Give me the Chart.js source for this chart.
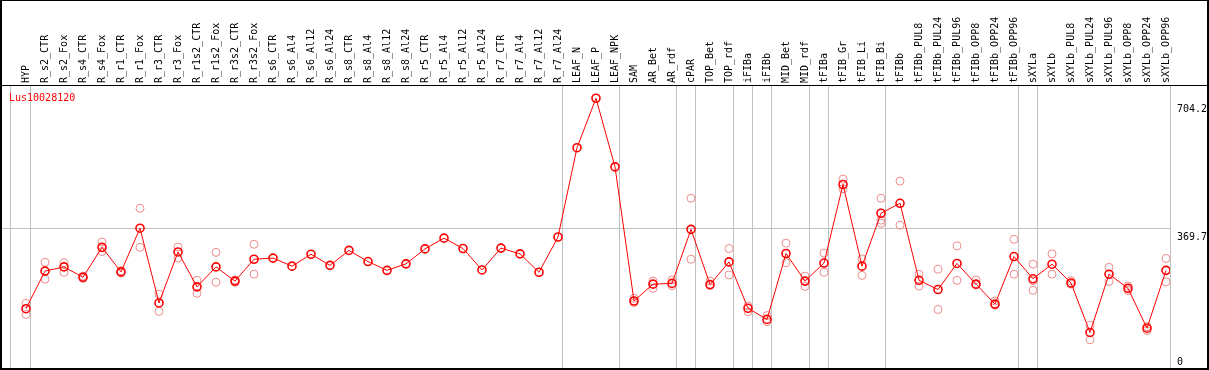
<!DOCTYPE html>
<html><head><meta charset="utf-8">
<script src="https://cdn.jsdelivr.net/npm/chart.js@4.4.0/dist/chart.umd.min.js"></script>
<style>html,body{margin:0;padding:0;background:#fff;}canvas{display:block;}</style>
</head><body>
<canvas id="c" width="1209" height="370"></canvas>
<script>
const geneName = 'Lus10028120';
const categories = ['HYP','R_s2_CTR','R_s2_Fox','R_s4_CTR','R_s4_Fox','R_r1_CTR','R_r1_Fox','R_r3_CTR','R_r3_Fox','R_r1s2_CTR','R_r1s2_Fox','R_r3s2_CTR','R_r3s2_Fox','R_s6_CTR','R_s6_Al4','R_s6_Al12','R_s6_Al24','R_s8_CTR','R_s8_Al4','R_s8_Al12','R_s8_Al24','R_r5_CTR','R_r5_Al4','R_r5_Al12','R_r5_Al24','R_r7_CTR','R_r7_Al4','R_r7_Al12','R_r7_Al24','LEAF_N','LEAF_P','LEAF_NPK','SAM','AR_Bet','AR_rdf','cPAR','TOP_Bet','TOP_rdf','iFIBa','iFIBb','MID_Bet','MID_rdf','tFIBa','tFIB_Gr','tFIB_Li','tFIB_Bi','tFIBb','tFIBb_PUL8','tFIBb_PUL24','tFIBb_PUL96','tFIBb_OPP8','tFIBb_OPP24','tFIBb_OPP96','sXYLa','sXYLb','sXYLb_PUL8','sXYLb_PUL24','sXYLb_PUL96','sXYLb_OPP8','sXYLb_OPP24','sXYLb_OPP96'];
const meanValues = [160,258,269,242,320,256,370,175,308,217,269,232,289,292,271,302,273,312,283,260,277,316,344,317,261,318,303,255,347,580,709,530,180,224,226,367,223,282,161,132,304,232,279,484,271,409,435,234,210,278,224,172,296,238,276,227,98,250,213,109,260];
const rep1 = [174,281,280,245,334,259,422,198,321,234,307,235,328,null,null,null,null,null,null,null,null,null,null,null,null,null,null,null,null,null,null,null,187,232,235,448,232,317,167,142,331,245,305,498,290,448,493,250,263,324,235,180,341,276,303,233,117,268,219,113,291];
const rep2 = [145,237,255,239,309,253,320,153,292,200,229,229,250,null,null,null,null,null,null,null,null,null,null,null,null,null,null,null,null,null,null,null,176,213,220,289,220,248,152,126,280,218,255,473,247,391,378,219,158,234,222,169,250,233,250,224,79,231,207,103,230];
const rep3 = [null,null,null,null,null,null,null,null,null,null,null,null,null,null,null,null,null,null,null,null,null,null,null,null,null,null,null,null,null,null,null,null,null,null,null,null,null,null,null,null,null,null,null,null,null,383,null,null,null,null,null,null,null,208,null,null,null,null,null,null,null];
const yTickValues = [704.2, 369.7, 0];
const gridLineValue = 369.7;
const groupEnds = [0,28,31,34,35,37,38,39,41,42,45,52,53,60];

const X_MIN = -26/19, X_MAX = 60 + 4/19;
const Y_MAX = 743.6;
const PX_PER_UNIT = 285 / Y_MAX;

const toPts = arr => arr.map((v,i)=> v==null ? null : {x:i, y:v}).filter(p=>p);
const noPad = s => { s.paddingLeft = 0; s.paddingRight = 0; s.paddingTop = 0; s.paddingBottom = 0; };

const frame = {
  id:'frame',
  afterDraw(chart){
    const ctx = chart.ctx;
    ctx.save();
    ctx.fillStyle = '#000';
    ctx.fillRect(0,0,1209,1);
    ctx.fillRect(0,0,2,370);
    ctx.fillRect(0,368,1209,2);
    ctx.fillRect(1207,0,2,370);
    ctx.fillRect(0,85,1209,1);
    ctx.fillStyle = '#ff0000';
    ctx.font = '10px "DejaVu Sans Mono"';
    ctx.textBaseline = 'alphabetic';
    ctx.fillText(geneName, 9, 101);
    ctx.restore();
  }
};

new Chart(document.getElementById('c'), {
  type:'line',
  data:{
    datasets:[
      {data:toPts(meanValues), xAxisID:'x', yAxisID:'y', borderColor:'#ff0000', borderWidth:1, pointRadius:4, pointBorderWidth:1.6, pointBorderColor:'#ff0000', pointBackgroundColor:'rgba(0,0,0,0)', tension:0, showLine:true},
      {data:toPts(rep1), xAxisID:'x', yAxisID:'y', showLine:false, pointRadius:4, pointBorderWidth:1, pointBorderColor:'rgb(238,140,140)', pointBackgroundColor:'rgba(0,0,0,0)'},
      {data:toPts(rep2), xAxisID:'x', yAxisID:'y', showLine:false, pointRadius:4, pointBorderWidth:1, pointBorderColor:'rgb(238,140,140)', pointBackgroundColor:'rgba(0,0,0,0)'},
      {data:toPts(rep3), xAxisID:'x', yAxisID:'y', showLine:false, pointRadius:4, pointBorderWidth:1, pointBorderColor:'rgb(238,140,140)', pointBackgroundColor:'rgba(0,0,0,0)'}
    ]
  },
  options:{
    responsive:false, animation:false, devicePixelRatio:1,
    layout:{padding:0, autoPadding:false},
    plugins:{legend:{display:false}, tooltip:{enabled:false}},
    scales:{
      x:{type:'linear', position:'top', min:X_MIN, max:X_MAX,
        grid:{display:false, drawTicks:false}, border:{display:false},
        afterBuildTicks:s=>{ s.ticks = categories.map((_,i)=>({value:i})); },
        afterFit:s=>{ s.height = 85; noPad(s); },
        ticks:{autoSkip:false, minRotation:90, maxRotation:90, padding:2, labelOffset:12, color:'#000',
          font:{family:'"DejaVu Sans Mono"', size:10},
          callback:v=>categories[v]}
      },
      xg:{type:'linear', position:'bottom', min:X_MIN, max:X_MAX,
        grid:{display:true, drawTicks:false, color:'#c0c0c0', lineWidth:1}, border:{display:false},
        afterBuildTicks:s=>{ s.ticks = [{value:-0.84}].concat(groupEnds.map(i=>({value:i+0.24}))); },
        afterFit:s=>{ s.height = 0; noPad(s); },
        ticks:{display:false}
      },
      y:{type:'linear', position:'right', min:0, max:Y_MAX,
        grid:{display:true, drawTicks:false, color:'#c0c0c0', lineWidth:1}, border:{display:false},
        afterBuildTicks:s=>{ s.ticks = [{value:gridLineValue}]; },
        afterFit:s=>{ s.width = 0; noPad(s); },
        ticks:{display:false}
      },
      yl:{type:'linear', position:'right', min:0, max:Y_MAX,
        grid:{display:false, drawTicks:false}, border:{display:false},
        afterBuildTicks:s=>{ s.ticks = yTickValues.map(v=>({value: v===0 ? v + 8/PX_PER_UNIT : v - 9/PX_PER_UNIT})); },
        afterFit:s=>{ s.width = 39; noPad(s); },
        ticks:{padding:7, color:'#000', font:{family:'"DejaVu Sans Mono"', size:10},
          callback:(v,i)=>String(yTickValues[i])}
      }
    }
  },
  plugins:[frame]
});
</script>
</body></html>
